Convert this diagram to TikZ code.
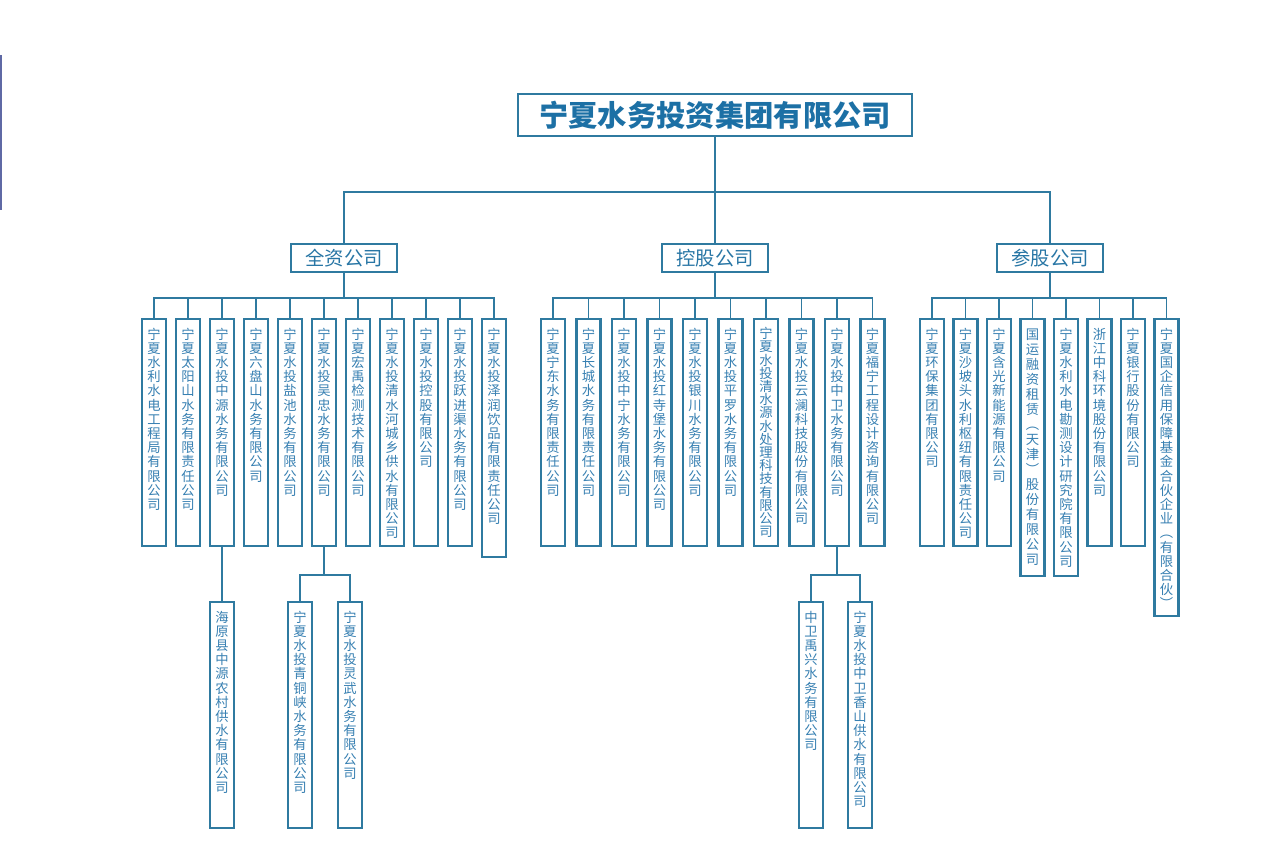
\documentclass[tikz,border=0pt]{standalone}
\usepackage{fontspec}
\newfontfamily\cjk{Noto Sans CJK SC}
\definecolor{lineblue}{RGB}{47,122,160}
\definecolor{topblue}{RGB}{28,112,165}
\definecolor{catblue}{RGB}{40,118,165}
\definecolor{colblue}{RGB}{55,128,178}
\definecolor{edgebar}{RGB}{95,105,165}
\newdimen\vu \vu=0.75pt
\newdimen\vtA \newdimen\vtB
\def\vtend{\relax vtend}
\def\vtloop#1{\ifx#1\vtend\else\hbox to 24\vu{\hss\vrule height\vtA depth\vtB width0pt\relax#1\hss}\expandafter\vtloop\fi}
\newcommand\vcol[4]{\vbox to #3\vu{\offinterlineskip\vtA=\dimexpr#2\vu/2+5\vu\relax\vtB=\dimexpr#2\vu-\vtA\relax\vskip#1\vu\expandafter\vtloop#4\vtend\vss}}
\newcommand\cbox[6][14.2]{\node[colbox] (#2) at (#3,#4) {\vcol{8}{#1}{#5}{#6}};}
\tikzset{
 conn/.style={draw=lineblue, line width=1.4pt},
 colbox/.style={draw=lineblue, line width=1.6pt, fill=white, inner sep=0pt, outer sep=0pt, anchor=north, text=colblue, font=\cjk\fontsize{10}{11}\selectfont},
 catbox/.style={draw=lineblue, line width=1.7pt, fill=white, inner sep=0pt, outer sep=0pt, minimum width=79.5pt, minimum height=21pt, text=catblue, font=\cjk\fontsize{14.5}{16}\selectfont},
 topbox/.style={draw=lineblue, line width=2.2pt, fill=white, inner sep=0pt, outer sep=0pt, minimum width=295.5pt, minimum height=31.5pt, text=topblue, font=\cjk\bfseries\fontsize{22}{24}\selectfont},
}
\begin{document}
\begin{tikzpicture}[x=0.75pt,y=-0.75pt]
\fill[white] (0,0) rectangle (1280,863);
\useasboundingbox (0,0) rectangle (1280,863);
\fill[edgebar] (0,55) rectangle (2,210);
% top and categories
\node[topbox] (top) at (715,115) {宁夏水务投资集团有限公司};
\node[catbox] (cat1) at (344,258) {全资公司};
\node[catbox] (cat2) at (715,258) {控股公司};
\node[catbox] (cat3) at (1050,258) {参股公司};
\coordinate (busT) at (715,192);
\draw[conn] (top.south) -- (busT);
\draw[conn] (cat1.north) |- (busT) -| (cat3.north);
\draw[conn] (busT) -- (cat2.north);
% wholly owned
\cbox{L1}{154}{319}{227}{宁夏水利水电工程局有限公司}
\cbox{L2}{188}{319}{227}{宁夏太阳山水务有限责任公司}
\cbox{L3}{222}{319}{227}{宁夏水投中源水务有限公司}
\cbox{L4}{256}{319}{227}{宁夏六盘山水务有限公司}
\cbox{L5}{290}{319}{227}{宁夏水投盐池水务有限公司}
\cbox{L6}{324}{319}{227}{宁夏水投吴忠水务有限公司}
\cbox{L7}{358}{319}{227}{宁夏宏禹检测技术有限公司}
\cbox{L8}{392}{319}{227}{宁夏水投清水河城乡供水有限公司}
\cbox{L9}{426}{319}{227}{宁夏水投控股有限公司}
\cbox{L10}{460}{319}{227}{宁夏水投跃进渠水务有限公司}
\cbox{L11}{494}{319}{238}{宁夏水投泽润饮品有限责任公司}
\coordinate (bL) at (344,298);
\draw[conn] (cat1.south) -- (bL);
\draw[conn] (L1.north) |- (bL) -| (L11.north);
\foreach \i in {2,...,10} \draw[conn] (L\i.north) -- (L\i.north |- bL);
% holding
\cbox{M1}{553}{319}{227}{宁夏宁东水务有限责任公司}
\cbox{M2}{588.5}{319}{227}{宁夏长城水务有限责任公司}
\cbox{M3}{624}{319}{227}{宁夏水投中宁水务有限公司}
\cbox{M4}{659.5}{319}{227}{宁夏水投红寺堡水务有限公司}
\cbox{M5}{695}{319}{227}{宁夏水投银川水务有限公司}
\cbox{M6}{730.5}{319}{227}{宁夏水投平罗水务有限公司}
\cbox[13.2]{M7}{766}{319}{227}{宁夏水投清水源水处理科技有限公司}
\cbox{M8}{801.5}{319}{227}{宁夏水投云澜科技股份有限公司}
\cbox{M9}{837}{319}{227}{宁夏水投中卫水务有限公司}
\cbox{M10}{872.5}{319}{227}{宁夏福宁工程设计咨询有限公司}
\coordinate (bM) at (715,298);
\draw[conn] (cat2.south) -- (bM);
\draw[conn] (M1.north) |- (bM) -| (M10.north);
\foreach \i in {2,...,9} \draw[conn] (M\i.north) -- (M\i.north |- bM);
% participating
\cbox{R1}{932}{319}{227}{宁夏环保集团有限公司}
\cbox{R2}{965.5}{319}{227}{宁夏沙坡头水利枢纽有限责任公司}
\cbox{R3}{999}{319}{227}{宁夏含光新能源有限公司}
\cbox[15]{R4}{1032.5}{319}{257}{国运融资租赁︵天津︶股份有限公司}
\cbox{R5}{1066}{319}{257}{宁夏水利水电勘测设计研究院有限公司}
\cbox{R6}{1099.5}{319}{227}{浙江中科环境股份有限公司}
\cbox{R7}{1133}{319}{227}{宁夏银行股份有限公司}
\cbox{R8}{1166.5}{319}{297}{宁夏国企信用保障基金合伙企业︵有限合伙︶}
\coordinate (bR) at (1050,298);
\draw[conn] (cat3.south) -- (bR);
\draw[conn] (R1.north) |- (bR) -| (R8.north);
\foreach \i in {2,...,7} \draw[conn] (R\i.north) -- (R\i.north |- bR);
% second level
\cbox{H1}{222}{602}{226}{海原县中源农村供水有限公司}
\draw[conn] (L3.south) -- (H1.north);
\cbox{W1}{300}{602}{226}{宁夏水投青铜峡水务有限公司}
\cbox{W2}{350}{602}{226}{宁夏水投灵武水务有限公司}
\coordinate (bW) at (324,575);
\draw[conn] (L6.south) -- (bW);
\draw[conn] (W1.north) |- (bW) -| (W2.north);
\cbox{Z1}{811}{602}{226}{中卫禹兴水务有限公司}
\cbox{Z2}{860}{602}{226}{宁夏水投中卫香山供水有限公司}
\coordinate (bZ) at (837,575);
\draw[conn] (M9.south) -- (bZ);
\draw[conn] (Z1.north) |- (bZ) -| (Z2.north);
\end{tikzpicture}
\end{document}
